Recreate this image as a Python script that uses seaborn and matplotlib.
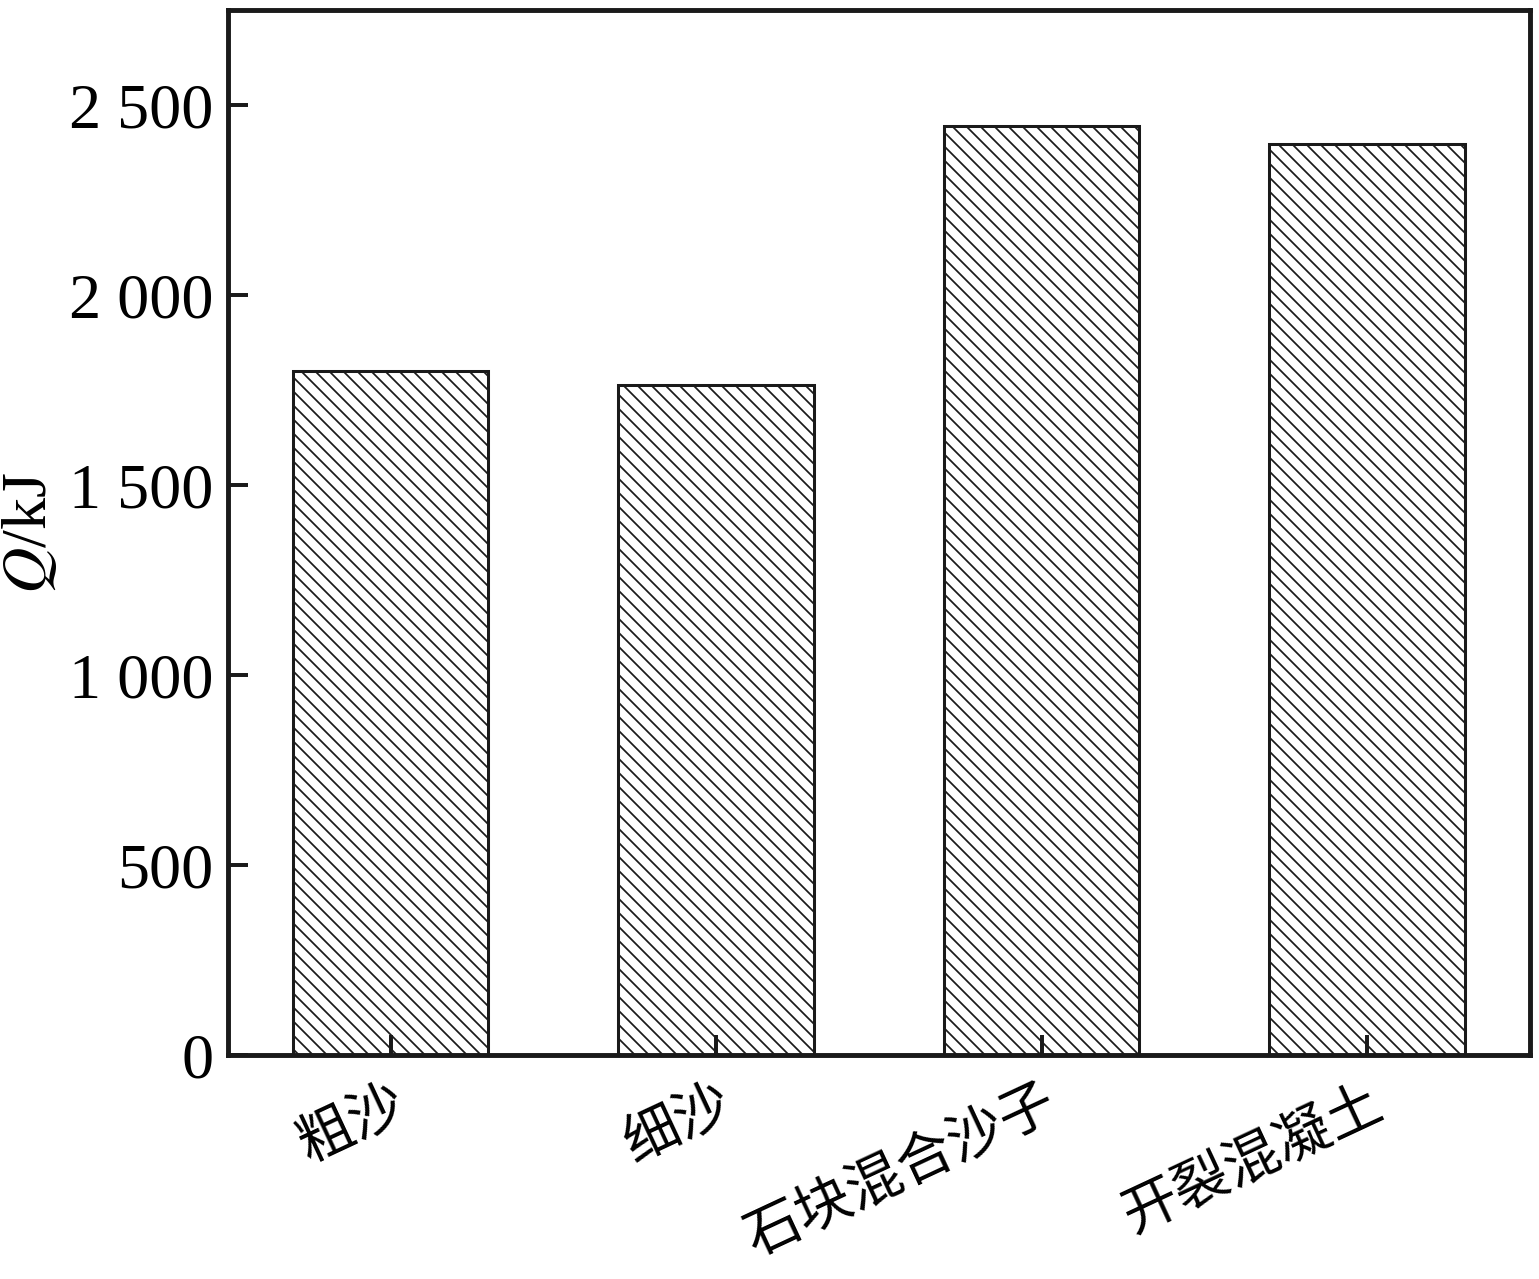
import pandas as pd
import numpy as np
import matplotlib
matplotlib.use("Agg")
import matplotlib.pyplot as plt
import seaborn as sns

# data
categories = ['粗沙', '细沙', '石块混合沙子', '开裂混凝土']
heat_kj = [1800, 1765, 2445, 2398]
y_ticks = [0, 500, 1000, 1500, 2000, 2500]

df = pd.DataFrame({'material': categories, 'Q': heat_kj})

sns.set_style('ticks')
plt.rcParams['font.family'] = ['Liberation Serif', 'DejaVu Serif']
plt.rcParams['mathtext.fontset'] = 'stix'
plt.rcParams['hatch.linewidth'] = 1.5
plt.rcParams['hatch.color'] = '#222222'
plt.rcParams['text.color'] = 'black'
plt.rcParams['xtick.color'] = 'black'
plt.rcParams['ytick.color'] = 'black'
plt.rcParams['axes.labelcolor'] = 'black'

dpi = 84
fig = plt.figure(figsize=(1539 / dpi, 1279 / dpi), dpi=dpi)
ax = fig.add_axes([0.148, 0.175, 0.846, 0.817])

ax = sns.barplot(data=df, x='material', y='Q', color='white', width=0.6,
                 edgecolor='#1a1a1a', linewidth=2.6, ax=ax)
for p in ax.patches:
    p.set_hatch('\\\\')
    p.set_facecolor('white')
ax.set_axisbelow(False)

ax.set_xlim(-0.5, 3.5)
ax.set_ylim(0, 2750)
ax.set_yticks(y_ticks)
ax.set_yticklabels([f"{v:,}".replace(',', ' ') for v in y_ticks], fontsize=55)

ax.set_xticks(range(len(categories)))
ax.set_xticklabels(categories, family=['Noto Sans CJK SC', 'DejaVu Sans'], fontsize=48,
                   rotation=25, ha='right', va='top', rotation_mode='anchor')

ax.tick_params(axis='both', direction='in', length=17, width=3.4, color='#1a1a1a',
               labelcolor='black')
ax.tick_params(axis='x', pad=16)
ax.tick_params(axis='y', pad=12)
for s in ax.spines.values():
    s.set_linewidth(4.2)
    s.set_color('#1a1a1a')
    s.set_zorder(5)

ax.set_xlabel('')
ax.set_ylabel('$Q$/kJ', fontsize=55, labelpad=8)

fig.savefig('out.png', dpi=dpi)
